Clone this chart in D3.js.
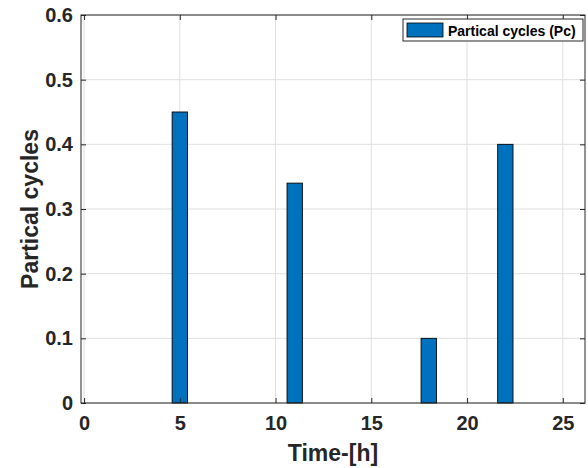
<!DOCTYPE html>
<html>
<head>
<meta charset="utf-8">
<script src="https://cdn.jsdelivr.net/npm/d3@7"></script>
<style>
  html, body { margin: 0; padding: 0; background: #fff; }
  svg { display: block; font-family: "Liberation Sans", Arial, Helvetica, sans-serif; }
</style>
</head>
<body>
<svg id="chart" width="588" height="468"></svg>
<script>
// Hourly partial cycles
const hours = d3.range(1, 25);
const cycles = [0, 0, 0, 0, 0.45, 0, 0, 0, 0, 0, 0.34, 0, 0, 0, 0, 0, 0, 0.10, 0, 0, 0, 0.40, 0, 0];
const xTicks = [0, 5, 10, 15, 20, 25];
const yTicks = [0, 0.1, 0.2, 0.3, 0.4, 0.5, 0.6];
const seriesName = "Partical cycles (Pc)";
const xLabel = "Time-[h]";
const yLabel = "Partical cycles";

const svg = d3.select("#chart");
const plot = { left: 81, right: 585, top: 15, bottom: 403 };
const axisColor = "#262626";
const gridColor = "#dfdfdf";
const barColor = "#0072BD";

const x = d3.scaleLinear().domain([-0.16, 26.16]).range([plot.left, plot.right]);
const y = d3.scaleLinear().domain([0, 0.6]).range([plot.bottom, plot.top]);

// grid
const grid = svg.append("g");
grid.selectAll("line.gx").data(xTicks).join("line")
  .attr("x1", d => x(d)).attr("x2", d => x(d))
  .attr("y1", plot.top).attr("y2", plot.bottom)
  .attr("stroke", gridColor).attr("stroke-width", 1);
grid.selectAll("line.gy").data(yTicks).join("line")
  .attr("x1", plot.left).attr("x2", plot.right)
  .attr("y1", d => y(d)).attr("y2", d => y(d))
  .attr("stroke", gridColor).attr("stroke-width", 1);

// bars
const barW = 0.8;
svg.append("g").selectAll("rect").data(hours).join("rect")
  .attr("x", (d) => x(d - barW / 2))
  .attr("width", (d) => x(d + barW / 2) - x(d - barW / 2))
  .attr("y", (d, i) => y(cycles[i]))
  .attr("height", (d, i) => y(0) - y(cycles[i]))
  .attr("fill", barColor)
  .attr("stroke", "#000")
  .attr("stroke-width", 0.9);

// axes (ticks inward, box on)
const tickLen = 5;
const xAxisB = d3.axisBottom(x).tickValues(xTicks).tickSize(-tickLen).tickPadding(13).tickFormat(d3.format("d"));
const xAxisT = d3.axisTop(x).tickValues(xTicks).tickSize(-tickLen).tickFormat("");
const yAxisL = d3.axisLeft(y).tickValues(yTicks).tickSize(-tickLen).tickPadding(8).tickFormat(d => d === 0 ? "0" : d3.format(".1f")(d));
const yAxisR = d3.axisRight(y).tickValues(yTicks).tickSize(-tickLen).tickFormat("");

function style(g) {
  g.select(".domain").remove();
  g.selectAll(".tick line").attr("stroke", axisColor);
  g.selectAll(".tick text").attr("fill", axisColor).style("font-size", "20px").style("font-weight", "bold");
}
svg.append("g").attr("transform", `translate(0,${plot.bottom})`).call(xAxisB).call(style);
svg.append("g").attr("transform", `translate(0,${plot.top})`).call(xAxisT).call(style);
svg.append("g").attr("transform", `translate(${plot.left},0)`).call(yAxisL).call(style);
svg.append("g").attr("transform", `translate(${plot.right},0)`).call(yAxisR).call(style);

// box
svg.append("rect")
  .attr("x", plot.left).attr("y", plot.top)
  .attr("width", plot.right - plot.left).attr("height", plot.bottom - plot.top)
  .attr("fill", "none").attr("stroke", axisColor).attr("stroke-width", 1);

// axis labels
svg.append("text")
  .attr("x", (plot.left + plot.right) / 2).attr("y", 461)
  .attr("text-anchor", "middle").attr("fill", axisColor)
  .style("font-size", "23px").style("font-weight", "bold")
  .text(xLabel);
svg.append("text")
  .attr("transform", `translate(38,${(plot.top + plot.bottom) / 2}) rotate(-90)`)
  .attr("text-anchor", "middle").attr("fill", axisColor)
  .style("font-size", "23px").style("font-weight", "bold")
  .text(yLabel);

// legend
const lg = svg.append("g").attr("transform", "translate(403,19)");
lg.append("rect").attr("width", 180).attr("height", 22)
  .attr("fill", "#fff").attr("stroke", axisColor).attr("stroke-width", 1);
lg.append("rect").attr("x", 4).attr("y", 4).attr("width", 36).attr("height", 14)
  .attr("fill", barColor).attr("stroke", "#000").attr("stroke-width", 0.8);
lg.append("text").attr("x", 45).attr("y", 16.5)
  .attr("fill", "#000")
  .style("font-size", "14px").style("font-weight", "bold")
  .text(seriesName);
</script>
</body>
</html>
